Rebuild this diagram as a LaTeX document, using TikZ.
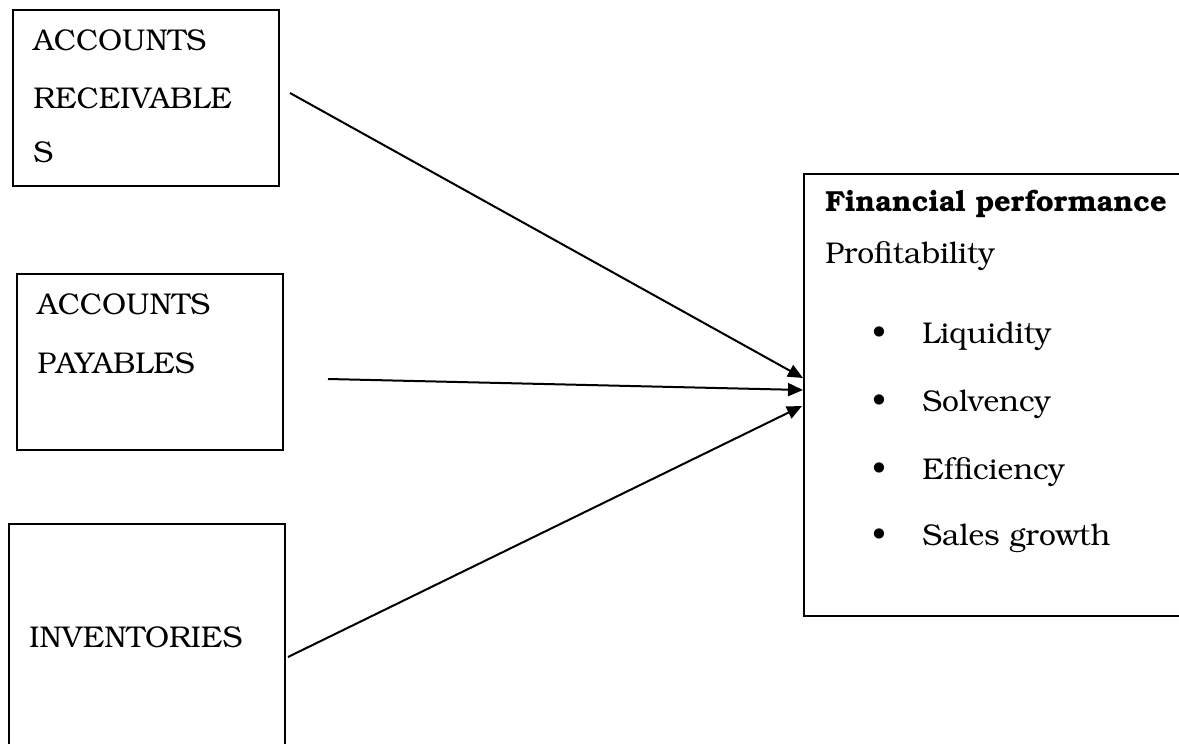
\documentclass[tikz,border=0pt]{standalone}
\usepackage[T1]{fontenc}
\usepackage{bookman}
\usetikzlibrary{arrows.meta,calc}
\begin{document}
\begin{tikzpicture}[x=0.5pt,y=-0.5pt,
  box/.style={draw,line width=1pt,inner sep=0pt,anchor=north west},
  lbl/.style={inner sep=0pt,anchor=base west,font=\fontsize{15}{18}\selectfont},
  conn/.style={line width=1pt,-{Triangle[length=7.5pt,width=6.5pt]}}]
\useasboundingbox (0,0) rectangle (1179,744);
\clip (0,0) rectangle (1179,744);
% boxes
\node[box,minimum width=133pt,minimum height=88pt] (ar) at (12,9) {};
\node[box,minimum width=133.25pt,minimum height=88pt] (ap) at (15.5,273) {};
\node[box,minimum width=138.25pt,minimum height=125pt] (inv) at (7.5,523) {};
\node[box,minimum width=200pt,minimum height=221pt] (fin) at (803,173) {};
% left texts
\node[lbl] (ar1) at (33,50) {ACCOUNTS};
\node[lbl] (ar2) at (33,108) {RECEIVABLE};
\node[lbl] (ar3) at (33,162) {S};
\node[lbl] (ap1) at (37,314) {ACCOUNTS};
\node[lbl] (ap2) at (37,373) {PAYABLES};
\node[lbl] (inv1) at (29,647) {INVENTORIES};
% right texts
\node[lbl,font=\fontsize{14.5}{18}\selectfont\bfseries] (fp) at (825,211) {Financial performance};
\node[lbl] (pr) at (825,263) {Profitability};
\foreach \n/\t/\yy in {l1/Liquidity/343,l2/Solvency/411,l3/Efficiency/479,l4/Sales growth/545}{
  \node[lbl,anchor=base] (b\n) at (879,\yy) {\textbullet};
  \node[lbl] (\n) at (922,\yy) {\t};
}
% connectors
\coordinate (s1) at (290,93);
\coordinate (s2) at (328,379);
\coordinate (s3) at (288,657);
\coordinate (e1) at ($(fin.north west)+(0,205)$);
\coordinate (e2) at ($(fin.north west)+(0,217)$);
\coordinate (e3) at ($(fin.north west)+(-1,233)$);
\draw[conn] (s1) -- (e1);
\draw[conn] (s2) -- (e2);
\draw[conn] (s3) -- (e3);
\end{tikzpicture}
\end{document}
